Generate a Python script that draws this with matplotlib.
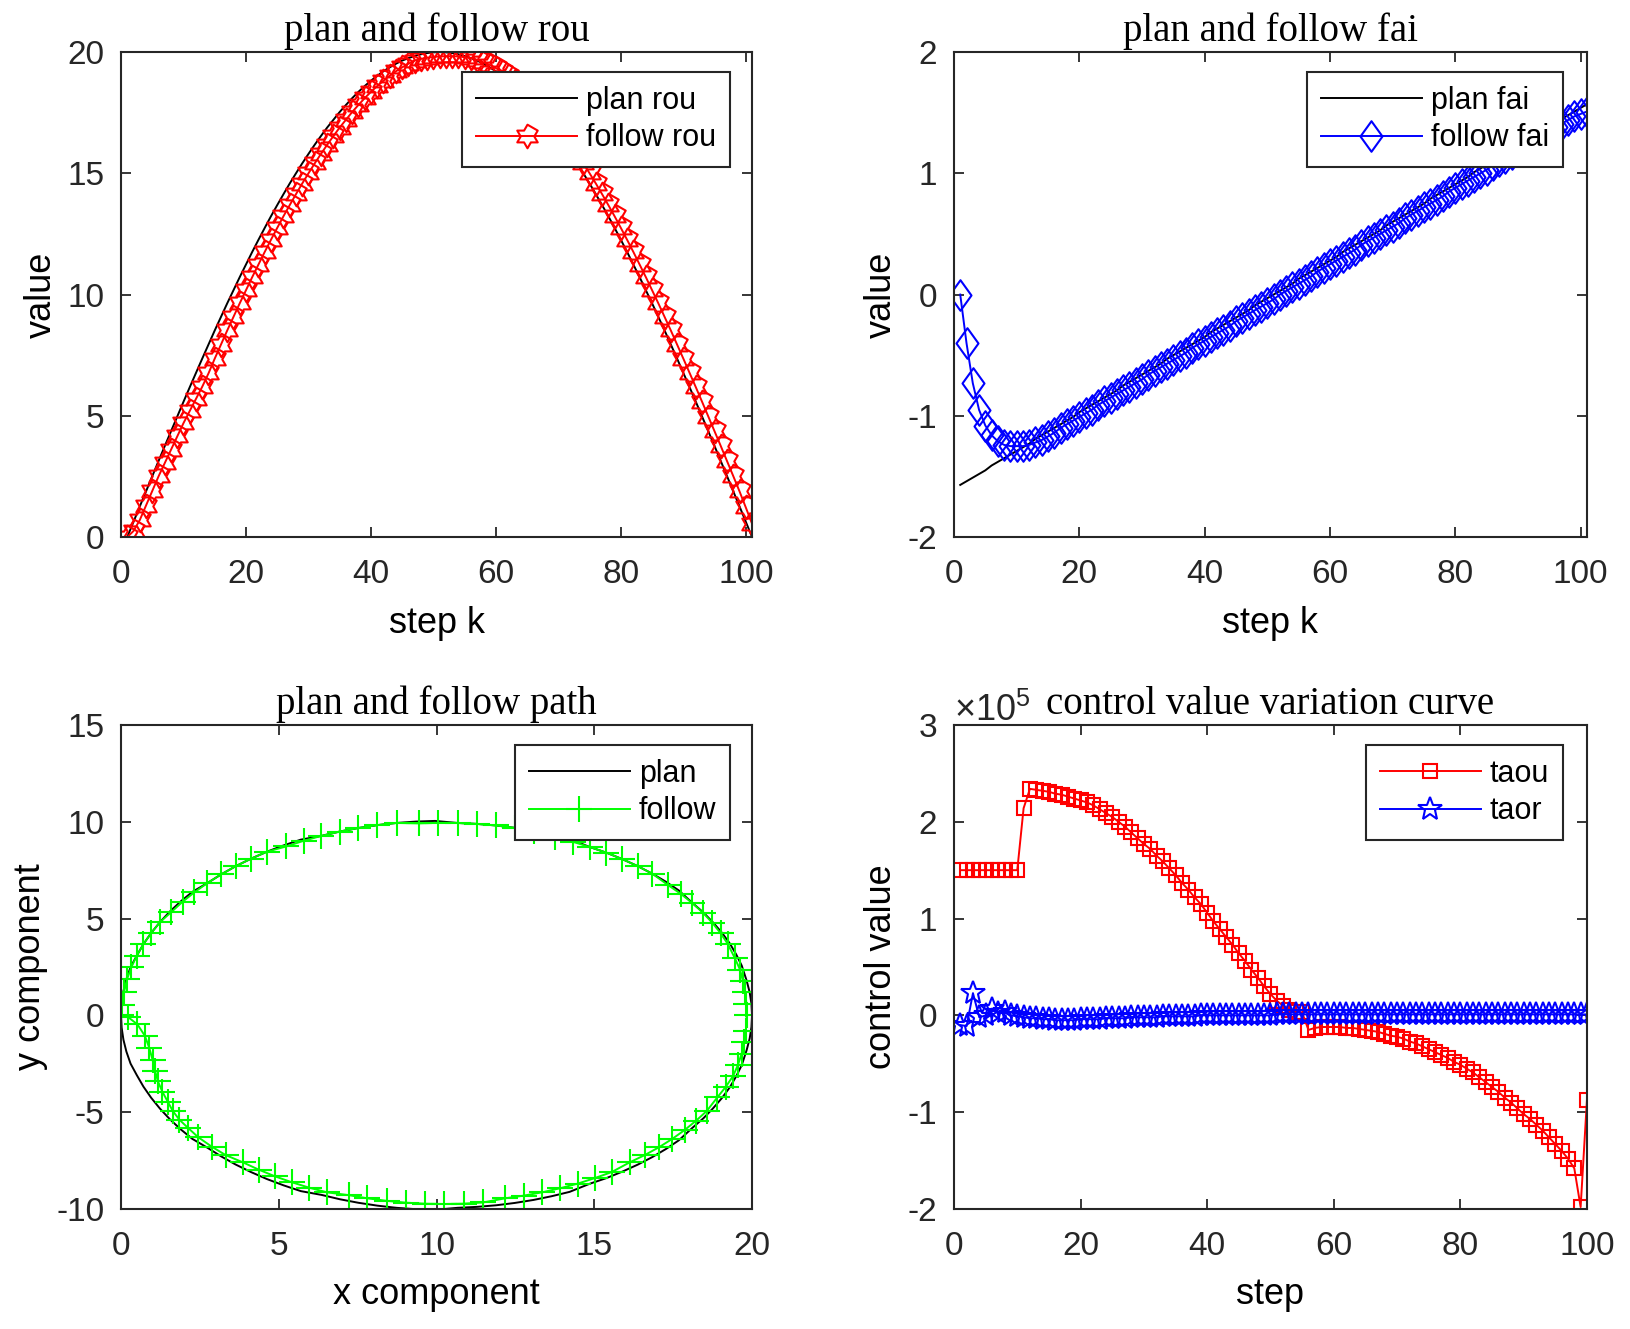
import numpy as np
import matplotlib
matplotlib.use("Agg")
import matplotlib.pyplot as plt
from matplotlib.path import Path
from matplotlib.ticker import ScalarFormatter, MultipleLocator

plt.rcParams['font.family'] = ['Liberation Sans', 'DejaVu Sans']
plt.rcParams['mathtext.fontset'] = 'custom'
plt.rcParams['mathtext.rm'] = 'Liberation Sans'
plt.rcParams['mathtext.it'] = 'Liberation Sans'
plt.rcParams['axes.unicode_minus'] = False

# ---- data ----
plan_rou = [0.00, 0.63, 1.26, 1.88, 2.51, 3.13, 3.75, 4.36, 4.97, 5.58,
            6.18, 6.77, 7.36, 7.94, 8.52, 9.08, 9.64, 10.18, 10.72, 11.24,
            11.76, 12.26, 12.75, 13.23, 13.69, 14.14, 14.58, 15.00, 15.41, 15.80,
            16.18, 16.54, 16.89, 17.21, 17.53, 17.82, 18.10, 18.36, 18.60, 18.82,
            19.02, 19.21, 19.37, 19.52, 19.65, 19.75, 19.84, 19.91, 19.96, 19.99,
            20.00, 19.99, 19.96, 19.91, 19.84, 19.75, 19.65, 19.52, 19.37, 19.21,
            19.02, 18.82, 18.60, 18.36, 18.10, 17.82, 17.53, 17.21, 16.89, 16.54,
            16.18, 15.80, 15.41, 15.00, 14.58, 14.14, 13.69, 13.23, 12.75, 12.26,
            11.76, 11.24, 10.72, 10.18, 9.64, 9.08, 8.52, 7.94, 7.36, 6.77,
            6.18, 5.58, 4.97, 4.36, 3.75, 3.13, 2.51, 1.88, 1.26, 0.63, 0.00]

follow_rou = [0.00, 0.25, 0.70, 1.30, 1.90, 2.50, 3.05, 3.60, 4.15, 4.70,
              5.20, 5.70, 6.20, 6.75, 7.36, 7.94, 8.52, 9.08, 9.64, 10.18,
              10.72, 11.24, 11.76, 12.26, 12.75, 13.23, 13.69, 14.14, 14.58, 15.00,
              15.41, 15.80, 16.18, 16.54, 16.89, 17.21, 17.53, 17.82, 18.10, 18.36,
              18.60, 18.82, 19.02, 19.21, 19.37, 19.52, 19.65, 19.72, 19.77, 19.80,
              19.82, 19.83, 19.83, 19.82, 19.79, 19.76, 19.68, 19.58, 19.47, 19.34,
              19.19, 19.01, 18.82, 18.60, 18.36, 18.10, 17.82, 17.53, 17.21, 16.89,
              16.54, 16.18, 15.80, 15.41, 15.00, 14.58, 14.14, 13.69, 13.23, 12.75,
              12.26, 11.76, 11.24, 10.72, 10.18, 9.64, 9.08, 8.52, 7.94, 7.36,
              6.77, 6.18, 5.58, 4.97, 4.36, 3.75, 3.13, 2.51, 1.88, 1.22, 0.55]

plan_fai = [-1.57, -1.54, -1.51, -1.48, -1.45, -1.41, -1.38, -1.35, -1.32, -1.29,
            -1.26, -1.23, -1.19, -1.16, -1.13, -1.10, -1.07, -1.04, -1.01, -0.97,
            -0.94, -0.91, -0.88, -0.85, -0.82, -0.79, -0.75, -0.72, -0.69, -0.66,
            -0.63, -0.60, -0.57, -0.53, -0.50, -0.47, -0.44, -0.41, -0.38, -0.35,
            -0.31, -0.28, -0.25, -0.22, -0.19, -0.16, -0.13, -0.09, -0.06, -0.03,
            0.00, 0.03, 0.06, 0.09, 0.13, 0.16, 0.19, 0.22, 0.25, 0.28,
            0.31, 0.35, 0.38, 0.41, 0.44, 0.47, 0.50, 0.53, 0.57, 0.60,
            0.63, 0.66, 0.69, 0.72, 0.75, 0.79, 0.82, 0.85, 0.88, 0.91,
            0.94, 0.97, 1.01, 1.04, 1.07, 1.10, 1.13, 1.16, 1.19, 1.23,
            1.26, 1.29, 1.32, 1.35, 1.38, 1.41, 1.45, 1.48, 1.51, 1.54, 1.57]

follow_fai = [0.00, -0.40, -0.73, -0.95, -1.08, -1.16, -1.21, -1.24, -1.25, -1.25,
              -1.25, -1.24, -1.22, -1.20, -1.17, -1.14, -1.10, -1.07, -1.04, -1.01,
              -0.98, -0.95, -0.91, -0.88, -0.85, -0.82, -0.79, -0.76, -0.73, -0.70,
              -0.66, -0.63, -0.60, -0.57, -0.54, -0.51, -0.48, -0.44, -0.41, -0.38,
              -0.35, -0.32, -0.29, -0.26, -0.22, -0.19, -0.16, -0.13, -0.10, -0.07,
              -0.04, 0.00, 0.03, 0.06, 0.09, 0.12, 0.15, 0.19, 0.22, 0.25,
              0.28, 0.31, 0.34, 0.37, 0.41, 0.44, 0.47, 0.50, 0.53, 0.56,
              0.59, 0.63, 0.66, 0.69, 0.72, 0.75, 0.78, 0.81, 0.85, 0.88,
              0.91, 0.94, 0.97, 1.00, 1.03, 1.07, 1.10, 1.13, 1.16, 1.19,
              1.22, 1.25, 1.28, 1.32, 1.35, 1.38, 1.41, 1.44, 1.47, 1.49, 1.51]

# control values, in units of 1e5
taou = [1.50, 1.50, 1.50, 1.50, 1.50, 1.50, 1.50, 1.50, 1.50, 1.50,
        2.14, 2.34, 2.33, 2.32, 2.31, 2.29, 2.28, 2.26, 2.24, 2.22,
        2.20, 2.17, 2.13, 2.09, 2.05, 2.00, 1.95, 1.89, 1.83, 1.77,
        1.72, 1.65, 1.59, 1.52, 1.45, 1.37, 1.30, 1.22, 1.15, 1.06,
        0.97, 0.89, 0.81, 0.73, 0.64, 0.56, 0.47, 0.39, 0.30, 0.22,
        0.15, 0.10, 0.06, 0.04, 0.03, -0.15, -0.13, -0.12, -0.12, -0.12,
        -0.12, -0.13, -0.13, -0.14, -0.15, -0.16, -0.17, -0.19, -0.21, -0.22,
        -0.24, -0.27, -0.29, -0.32, -0.35, -0.38, -0.41, -0.44, -0.48, -0.51,
        -0.55, -0.59, -0.64, -0.69, -0.74, -0.79, -0.85, -0.90, -0.96, -1.02,
        -1.07, -1.13, -1.19, -1.26, -1.33, -1.40, -1.48, -1.58, -1.98, -0.87]

taor = [-0.10, -0.11, 0.23, -0.02, 0.00, 0.07, 0.02, 0.03, 0.00, -0.01,
        -0.02, -0.03, -0.03, -0.04, -0.04, -0.05, -0.05, -0.05, -0.05, -0.04,
        -0.04, -0.04, -0.04, -0.03, -0.03, -0.03, -0.03, -0.02, -0.02, -0.02,
        -0.02, -0.02, -0.01, -0.01, -0.01, -0.01, -0.01, -0.01, 0.00, 0.00,
        0.00, 0.00, 0.00, 0.00, 0.00, 0.00, 0.00, 0.00, 0.00, 0.00,
        0.01, 0.01, 0.01, 0.01, 0.01, 0.01, 0.01, 0.01, 0.01, 0.01,
        0.01, 0.01, 0.01, 0.01, 0.01, 0.01, 0.01, 0.01, 0.01, 0.01,
        0.01, 0.01, 0.01, 0.01, 0.01, 0.01, 0.01, 0.01, 0.01, 0.01,
        0.01, 0.01, 0.01, 0.01, 0.01, 0.01, 0.01, 0.01, 0.01, 0.01,
        0.01, 0.01, 0.01, 0.01, 0.01, 0.01, 0.01, 0.01, 0.01, 0.01]

steps = np.arange(1, len(plan_rou) + 1)
ctrl_steps = np.arange(1, len(taou) + 1)

# path in x/y from polar rou/fai
plan_x = np.array(plan_rou) * np.cos(plan_fai)
plan_y = np.array(plan_rou) * np.sin(plan_fai)
follow_x = np.array(follow_rou) * np.cos(follow_fai)
follow_y = np.array(follow_rou) * np.sin(follow_fai)

# matlab-like markers
ang = np.pi / 2 + np.arange(12) * np.pi / 6
rad = np.where(np.arange(12) % 2 == 0, 1.0, 0.577)
hexagram = Path(np.column_stack([rad * np.cos(ang), rad * np.sin(ang)]), closed=True)
diamond = Path([(0, 1), (0.72, 0), (0, -1), (-0.72, 0), (0, 1)], closed=True)

AX_COLOR = '#262626'
TITLE_FONT = ['Liberation Serif', 'DejaVu Serif']


class PlainSciFormatter(ScalarFormatter):
    # tick labels as plain text (hyphen minus), offset text keeps x10^n
    def __call__(self, x, pos=None):
        return f"{x / 10 ** self.orderOfMagnitude:g}"


def matlab_style(ax):
    ax.tick_params(direction='in', top=True, right=True, length=7, width=1.3,
                   labelsize=24, colors=AX_COLOR)
    ax.tick_params(axis='x', pad=16)
    ax.tick_params(axis='y', pad=12)
    for s in ax.spines.values():
        s.set_linewidth(1.5)
        s.set_color(AX_COLOR)


def add_legend(ax, anchor):
    leg = ax.legend(loc='upper right', bbox_to_anchor=anchor, borderaxespad=0,
                    fontsize=22, numpoints=1, handlelength=3.3, handletextpad=0.3,
                    labelspacing=0.25, borderpad=0.45, fancybox=False, framealpha=1)
    leg.get_frame().set_edgecolor(AX_COLOR)
    leg.get_frame().set_linewidth(1.5)


fig = plt.figure(figsize=(16.31, 13.29), dpi=100)
ax1 = fig.add_axes([0.0742, 0.5959, 0.3869, 0.3649])
ax2 = fig.add_axes([0.5849, 0.5959, 0.3881, 0.3649])
ax3 = fig.add_axes([0.0742, 0.0903, 0.3869, 0.3642])
ax4 = fig.add_axes([0.5849, 0.0903, 0.3881, 0.3642])

# rou
ax1.plot(steps, plan_rou, color='k', lw=1.4, label='plan rou')
ax1.plot(steps, follow_rou, color='r', lw=1.4, marker=hexagram, ms=17,
         mfc='none', mec='r', mew=1.5, label='follow rou')
ax1.set_xlim(0, 101)
ax1.set_ylim(0, 20)
ax1.xaxis.set_major_locator(MultipleLocator(20))
ax1.yaxis.set_major_locator(MultipleLocator(5))
ax1.set_xlabel('step k', fontsize=26, labelpad=11)
ax1.set_ylabel('value', fontsize=26, labelpad=6)
ax1.set_title('plan and follow rou', family=TITLE_FONT, fontsize=28, y=1.0, pad=8)
add_legend(ax1, (0.965, 0.959))

# fai
ax2.plot(steps, plan_fai, color='k', lw=1.4, label='plan fai')
ax2.plot(steps, follow_fai, color='b', lw=1.4, marker=diamond, ms=22,
         mfc='none', mec='b', mew=1.5, label='follow fai')
ax2.set_xlim(0, 101)
ax2.set_ylim(-2, 2)
ax2.xaxis.set_major_locator(MultipleLocator(20))
ax2.yaxis.set_major_locator(MultipleLocator(1))
ax2.set_xlabel('step k', fontsize=26, labelpad=11)
ax2.set_ylabel('value', fontsize=26, labelpad=6)
ax2.set_title('plan and follow fai', family=TITLE_FONT, fontsize=28, y=1.0, pad=8)
add_legend(ax2, (0.962, 0.959))

# path
ax3.plot(plan_x, plan_y, color='k', lw=1.4, label='plan')
ax3.plot(follow_x, follow_y, color=(0, 1, 0), lw=1.4, marker='+', ms=19,
         mew=1.5, label='follow')
ax3.set_xlim(0, 20)
ax3.set_ylim(-10, 15)
ax3.xaxis.set_major_locator(MultipleLocator(5))
ax3.yaxis.set_major_locator(MultipleLocator(5))
ax3.set_xlabel('x component', fontsize=26, labelpad=11)
ax3.set_ylabel('y component', fontsize=26, labelpad=6)
ax3.set_title('plan and follow path', family=TITLE_FONT, fontsize=28, y=1.0, pad=8)
add_legend(ax3, (0.965, 0.959))

# control
ax4.plot(ctrl_steps, np.array(taou) * 1e5, color='r', lw=1.4, marker='s', ms=10,
         mfc='none', mec='r', mew=1.5, label='taou')
ax4.plot(ctrl_steps, np.array(taor) * 1e5, color='b', lw=1.4, marker='*', ms=18,
         mfc='none', mec='b', mew=1.5, label='taor')
ax4.set_xlim(0, 100)
ax4.set_ylim(-2e5, 3e5)
ax4.xaxis.set_major_locator(MultipleLocator(20))
ax4.yaxis.set_major_locator(MultipleLocator(1e5))
fmt = PlainSciFormatter(useMathText=True)
fmt.set_powerlimits((0, 0))
ax4.yaxis.set_major_formatter(fmt)
ax4.set_xlabel('step', fontsize=26, labelpad=11)
ax4.set_ylabel('control value', fontsize=26, labelpad=6)
ax4.set_title('control value variation curve', family=TITLE_FONT, fontsize=28, y=1.0, pad=8)
add_legend(ax4, (0.962, 0.959))

for ax in (ax1, ax2, ax3, ax4):
    matlab_style(ax)
ax4.yaxis.get_offset_text().set_fontsize(26)
ax4.yaxis.get_offset_text().set_color(AX_COLOR)

fig.savefig('out.png', dpi=100, facecolor='white')
